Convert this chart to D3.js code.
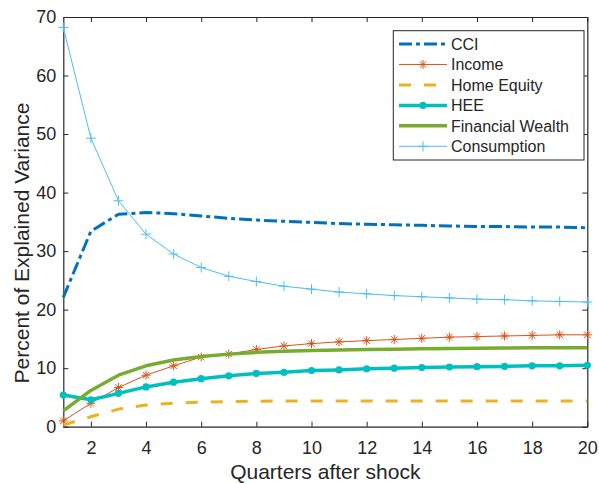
<!DOCTYPE html>
<html><head><meta charset="utf-8">
<script src="https://cdn.jsdelivr.net/npm/d3@7"></script>
<style>
html,body{margin:0;padding:0;background:#fff;}
svg{display:block;}
text{font-family:"Liberation Sans",Arial,Helvetica,sans-serif;fill:#262626;}
</style></head>
<body>
<svg id="chart" width="599" height="483"></svg>
<script>
const quarters = d3.range(1, 21);
const cci = [22.1,33.4,36.3,36.6,36.4,36.0,35.6,35.3,35.1,34.9,34.7,34.6,34.5,34.4,34.3,34.2,34.2,34.1,34.1,34.0];
const income = [1.0,4.0,6.7,8.8,10.4,11.9,12.4,13.2,13.8,14.2,14.5,14.7,14.9,15.1,15.3,15.4,15.5,15.6,15.7,15.7];
const homeEquity = [0.3,1.7,3.0,3.7,4.0,4.2,4.3,4.35,4.4,4.4,4.4,4.4,4.4,4.4,4.4,4.4,4.4,4.4,4.4,4.4];
const hee = [5.4,4.6,5.7,6.8,7.6,8.2,8.7,9.1,9.3,9.6,9.7,9.9,10.0,10.1,10.2,10.25,10.3,10.4,10.4,10.5];
const finWealth = [2.7,6.2,8.8,10.4,11.4,12.0,12.4,12.7,12.9,13.0,13.1,13.2,13.25,13.3,13.35,13.4,13.45,13.5,13.5,13.5];
const consumption = [68.2,49.3,38.6,32.9,29.5,27.2,25.7,24.8,24.0,23.5,23.0,22.7,22.4,22.2,22.0,21.8,21.7,21.5,21.4,21.3];
const xTicks = [2,4,6,8,10,12,14,16,18,20];
const yTicks = [0,10,20,30,40,50,60,70];
const seriesNames = ["CCI","Income","Home Equity","HEE","Financial Wealth","Consumption"];

const series = [
  {name:seriesNames[0], values:cci, color:"#0072BD", width:3, dash:"13,4,4,4", marker:null},
  {name:seriesNames[1], values:income, color:"#D95319", width:1, dash:null, marker:"star"},
  {name:seriesNames[2], values:homeEquity, color:"#EDB120", width:3, dash:"12,13", marker:null},
  {name:seriesNames[3], values:hee, color:"#00BFBF", width:3.5, dash:null, marker:"dot"},
  {name:seriesNames[4], values:finWealth, color:"#77AC30", width:3.5, dash:null, marker:null},
  {name:seriesNames[5], values:consumption, color:"#4DBEEE", width:1, dash:null, marker:"plus"}
];

const svg = d3.select("#chart");
const L = 63.3, R = 587.3, T = 17, B = 426.7;
const x = d3.scaleLinear().domain([1,20]).range([L,R]);
const y = d3.scaleLinear().domain([0,70]).range([B,T]);

// axes
const axColor = "#262626";
const gB = svg.append("g").attr("transform",`translate(0,${B})`)
  .call(d3.axisBottom(x).tickValues(xTicks).tickSizeInner(-5).tickSizeOuter(0).tickPadding(15));
const gL = svg.append("g").attr("transform",`translate(${L},0)`)
  .call(d3.axisLeft(y).tickValues(yTicks).tickSizeInner(-5).tickSizeOuter(0).tickPadding(7));
const gT = svg.append("g").attr("transform",`translate(0,${T})`)
  .call(d3.axisTop(x).tickValues(xTicks).tickSizeInner(-5).tickSizeOuter(0).tickFormat(""));
const gR = svg.append("g").attr("transform",`translate(${R},0)`)
  .call(d3.axisRight(y).tickValues(yTicks).tickSizeInner(-5).tickSizeOuter(0).tickFormat(""));
[gB,gL,gT,gR].forEach(g=>{
  g.select(".domain").attr("stroke",axColor).attr("stroke-width",1.2);
  g.selectAll(".tick line").attr("stroke",axColor).attr("stroke-width",1);
  g.selectAll(".tick text").attr("font-size",18).attr("font-family","Liberation Sans, Arial, sans-serif").attr("fill",axColor);
});

// axis labels
svg.append("text").attr("x",(L+R)/2).attr("y",479).attr("text-anchor","middle")
  .attr("font-size",21).text("Quarters after shock");
svg.append("text").attr("transform",`translate(29,243) rotate(-90)`).attr("text-anchor","middle")
  .attr("font-size",21).text("Percent of Explained Variance");

// markers
function drawMarker(g, type, cx, cy, color){
  if(type==="star"){
    const s=4.5, d=s*0.72;
    g.append("path").attr("d",`M${cx-s},${cy}L${cx+s},${cy}M${cx},${cy-s}L${cx},${cy+s}M${cx-d},${cy-d}L${cx+d},${cy+d}M${cx-d},${cy+d}L${cx+d},${cy-d}`)
      .attr("stroke",color).attr("stroke-width",1).attr("fill","none");
  } else if(type==="plus"){
    const s=5;
    g.append("path").attr("d",`M${cx-s},${cy}L${cx+s},${cy}M${cx},${cy-s}L${cx},${cy+s}`)
      .attr("stroke",color).attr("stroke-width",1).attr("fill","none");
  } else if(type==="dot"){
    g.append("circle").attr("cx",cx).attr("cy",cy).attr("r",3.6).attr("fill",color);
  }
}

const line = d3.line().x((d,i)=>x(quarters[i])).y(d=>y(d));
const plot = svg.append("g");
series.forEach(s=>{
  const g = plot.append("g");
  g.append("path").datum(s.values).attr("d",line).attr("fill","none")
    .attr("stroke",s.color).attr("stroke-width",s.width)
    .attr("stroke-dasharray",s.dash).attr("stroke-linejoin","round");
  if(s.marker){
    s.values.forEach((v,i)=>drawMarker(g,s.marker,x(quarters[i]),y(v),s.color));
  }
});

// legend
const lg = svg.append("g");
lg.append("rect").attr("x",393.3).attr("y",30.7).attr("width",190.7).attr("height",129.3)
  .attr("fill","#fff").attr("stroke",axColor).attr("stroke-width",1);
series.forEach((s,i)=>{
  const by = 50 + i*20.46;
  const ly = by - 6;
  lg.append("line").attr("x1",399).attr("x2",447).attr("y1",ly).attr("y2",ly)
    .attr("stroke",s.color).attr("stroke-width",s.width).attr("stroke-dasharray",s.dash);
  if(s.marker) drawMarker(lg,s.marker,423,ly,s.color);
  lg.append("text").attr("x",451).attr("y",by).attr("font-size",16).text(s.name);
});
</script>
</body></html>
